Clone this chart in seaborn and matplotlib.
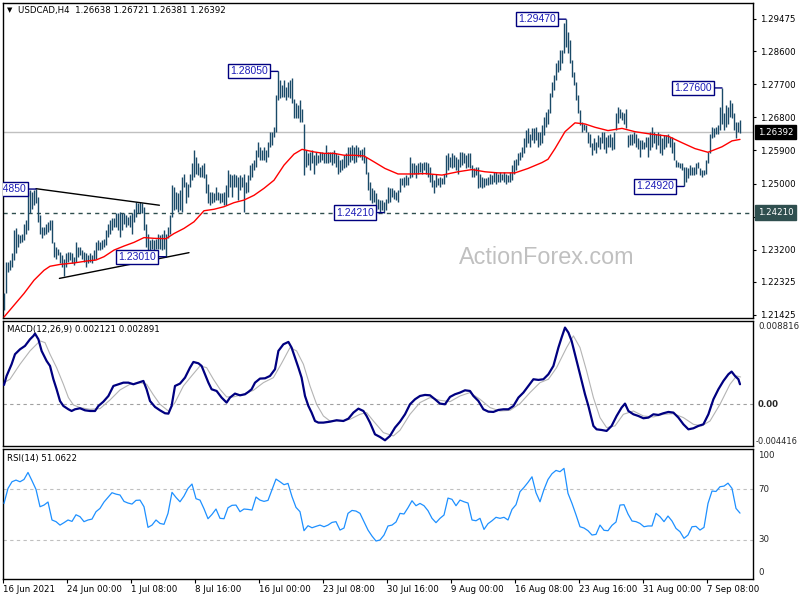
import numpy as np
import matplotlib
matplotlib.use("Agg")
import matplotlib.pyplot as plt
import seaborn as sns
from matplotlib import font_manager

# ---------------- data ----------------
header_text = "USDCAD,H4  1.26638 1.26721 1.26381 1.26392"
macd_text = "MACD(12,26,9) 0.002121 0.002891"
rsi_text = "RSI(14) 51.0622"
watermark = "ActionForex.com"
last_close = 1.26392
support_level = 1.24210

# H4 bar highs / lows in pips above 1.2000 (one value per bar)
bar_high_pips = [
    201, 287, 287, 292, 310, 373, 378, 364, 360, 364,
    391, 400, 478, 482, 478, 482, 485, 464, 414, 382,
    382, 391, 396, 402, 400, 341, 328, 323, 314, 305,
    296, 310, 314, 314, 310, 301, 341, 328, 328, 319,
    314, 310, 305, 310, 305, 319, 341, 346, 341, 346,
    350, 373, 391, 400, 405, 405, 419, 419, 423, 419,
    419, 414, 409, 414, 419, 432, 450, 448, 450, 446,
    437, 391, 364, 346, 350, 346, 350, 364, 360, 364,
    373, 364, 382, 414, 496, 491, 478, 475, 482, 518,
    527, 505, 500, 527, 555, 591, 573, 555, 545, 550,
    555, 527, 500, 478, 478, 473, 491, 478, 473, 473,
    478, 496, 536, 527, 523, 527, 523, 518, 523, 518,
    527, 505, 523, 550, 555, 564, 591, 614, 600, 591,
    600, 591, 614, 641, 641, 655, 741, 805, 781, 768,
    781, 763, 777, 781, 786, 731, 718, 713, 727, 704,
    663, 591, 582, 586, 591, 577, 586, 577, 586, 586,
    582, 604, 586, 586, 586, 591, 582, 577, 564, 568,
    577, 582, 600, 600, 604, 600, 604, 600, 591, 595,
    600, 573, 532, 505, 487, 482, 473, 459, 455, 455,
    450, 459, 491, 487, 487, 482, 478, 482, 514, 514,
    518, 523, 518, 573, 555, 555, 550, 555, 559, 555,
    559, 559, 555, 545, 527, 509, 527, 514, 518, 514,
    527, 577, 582, 573, 582, 577, 573, 568, 586, 586,
    582, 577, 582, 582, 550, 541, 545, 545, 527, 518,
    514, 514, 518, 527, 523, 532, 532, 527, 532, 527,
    532, 527, 523, 532, 550, 564, 568, 582, 586, 600,
    623, 645, 650, 636, 650, 650, 654, 641, 641, 659,
    681, 695, 704, 745, 777, 795, 827, 836, 863, 863,
    936, 947, 913, 890, 836, 804, 777, 741, 700, 668,
    663, 659, 641, 636, 609, 623, 614, 632, 627, 641,
    641, 627, 632, 636, 627, 641, 691, 709, 704, 695,
    691, 704, 632, 636, 636, 641, 636, 623, 618, 618,
    614, 627, 627, 641, 654, 641, 636, 641, 636, 623,
    632, 632, 636, 627, 627, 614, 564, 559, 555, 555,
    545, 545, 541, 550, 545, 545, 555, 559, 541, 536,
    536, 564, 586, 636, 654, 650, 654, 659, 709, 760,
    691, 713, 709, 727, 718, 691, 668, 668, 672,
]
bar_low_pips = [
    156, 201, 260, 264, 273, 292, 310, 328, 337, 341,
    346, 364, 373, 419, 432, 441, 446, 396, 364, 351,
    360, 364, 369, 373, 337, 301, 296, 305, 283, 273,
    248, 273, 287, 292, 283, 278, 287, 301, 305, 296,
    287, 273, 283, 287, 283, 292, 296, 319, 319, 323,
    328, 332, 355, 364, 373, 382, 382, 373, 355, 373,
    391, 382, 387, 382, 364, 396, 409, 419, 419, 419,
    373, 328, 310, 319, 323, 319, 323, 323, 323, 319,
    323, 301, 351, 364, 409, 427, 432, 423, 427, 423,
    491, 446, 464, 491, 509, 518, 527, 523, 518, 518,
    514, 473, 446, 441, 446, 451, 455, 455, 446, 451,
    441, 441, 464, 491, 464, 491, 491, 455, 482, 491,
    423, 473, 478, 509, 518, 536, 545, 573, 564, 564,
    564, 559, 573, 600, 605, 627, 641, 727, 732, 736,
    736, 727, 736, 732, 718, 677, 677, 677, 668, 668,
    523, 545, 550, 536, 555, 527, 550, 555, 559, 564,
    555, 555, 555, 559, 550, 555, 545, 527, 532, 536,
    541, 545, 550, 559, 564, 555, 559, 573, 573, 564,
    555, 527, 482, 455, 446, 451, 427, 432, 423, 428,
    421, 428, 446, 451, 464, 459, 455, 451, 478, 496,
    491, 496, 496, 514, 518, 527, 514, 527, 532, 527,
    536, 527, 518, 505, 491, 473, 491, 496, 491, 500,
    500, 518, 536, 545, 541, 545, 536, 527, 545, 550,
    555, 541, 545, 541, 518, 518, 523, 487, 491, 487,
    491, 496, 496, 500, 500, 505, 500, 505, 505, 509,
    505, 500, 505, 505, 509, 527, 536, 550, 564, 573,
    582, 600, 609, 600, 618, 609, 618, 600, 605, 609,
    632, 654, 663, 691, 736, 754, 781, 804, 809, 827,
    854, 872, 854, 827, 790, 768, 727, 691, 659, 641,
    645, 641, 609, 600, 577, 591, 582, 600, 595, 609,
    595, 582, 600, 600, 591, 595, 645, 664, 677, 672,
    663, 650, 600, 605, 605, 609, 600, 595, 573, 595,
    595, 600, 573, 591, 600, 609, 595, 605, 582, 577,
    595, 600, 609, 600, 582, 564, 545, 545, 541, 536,
    492, 505, 514, 523, 523, 523, 527, 541, 523, 518,
    523, 527, 555, 582, 623, 627, 636, 636, 645, 663,
    645, 654, 663, 681, 677, 645, 623, 641, 638,
]

# moving average (red line), sampled along the bars
ma_bar = [0, 5, 10, 15, 20, 23, 28, 35, 41, 46,
          50, 55, 60, 65, 70, 75, 81, 85, 90, 95,
          100, 105, 110, 115, 120, 125, 130, 135, 140, 145,
          149, 155, 160, 165, 170, 175, 180, 185, 190.5, 197,
          204, 210.5, 219, 227, 234, 240.5, 247, 255.5, 262, 269,
          272, 275.5, 280.5, 285.5, 290.5, 295.5, 302, 309, 315.5, 324,
          332, 339, 345.5, 352, 359, 364, 368]
ma_pips = [137, 169, 201, 237, 264, 275, 280, 284, 289, 292,
           301, 319, 330, 340, 353, 351, 350, 364, 378, 396,
           426, 430, 437, 448, 455, 468, 487, 509, 550, 580,
           593, 586, 582, 582, 577, 577, 575, 559, 541, 526,
           526, 527, 523, 532, 538, 532, 529, 529, 541, 557,
           566, 595, 641, 665, 662, 653, 644, 650, 641, 634,
           629, 611, 595, 585, 600, 616, 620]

# MACD main line (units of 1e-4)
macd_bar = [0, 1.3, 3.8, 5.5, 8, 10.5, 13, 14.7, 15.5, 17.2,
            18.8, 21.3, 23, 24.7, 26.3, 28, 29.7, 32.2, 33.8, 35.5,
            38, 40.5, 43, 45.5, 47.2, 49.7, 52.2, 54.7, 57.2, 59.7,
            62.2, 64.7, 67.2, 69.7, 71.3, 73, 75.5, 78, 80.5, 82.2,
            83.8, 85.5, 88, 90.5, 93, 94.7, 97.2, 98.8, 100.5, 102.2,
            103.8, 106.3, 108.8, 111.3, 113, 115.5, 118, 120.5, 122.2, 123.8,
            125.5, 128, 130.5, 133, 135.5, 137.2, 139.7, 142.2, 143.8, 145.5,
            147.2, 148.8, 150.5, 152.2, 153.8, 155.5, 157.2, 159.7, 163, 166.3,
            169.7, 172.2, 174.7, 177.2, 179.7, 181.3, 183, 185.5, 188, 190.5,
            193, 195.5, 198, 200.5, 203, 205.5, 208, 210.5, 213, 215.5,
            218, 220.5, 223, 225.5, 228, 230.5, 233, 234.7, 237.2, 239.7,
            242.2, 244.7, 247.2, 249.7, 252.2, 254.7, 257.2, 259.7, 262.2, 264.7,
            267.2, 269.7, 272.2, 274.7, 277.2, 278.8, 280.5, 282.2, 283.8, 285.5,
            288, 290.5, 292.2, 294.7, 296.3, 298.8, 301.3, 303.8, 306.3, 308.8,
            310.5, 312.2, 314.7, 317.2, 319.7, 322.2, 324.7, 327.2, 329.7, 332.2,
            334.7, 337.2, 339.7, 342.2, 344.7, 347.2, 349.7, 352.2, 354.7, 357.2,
            359.7, 362.2, 363.8, 365.5, 367.2, 368]
macd_main = [20.5, 30.0, 42.4, 53.0, 58.2, 61.8, 68.8, 72.4, 74.8, 68.8,
             56.5, 45.9, 40.6, 26.5, 15.9, 3.5, -1.8, -5.3, -7.1, -5.3,
             -4.2, -6.4, -7.1, -7.1, -1.8, 2.8, 8.8, 19.4, 21.2, 22.9,
             22.9, 21.2, 22.9, 24.7, 15.9, 3.5, -2.8, -6.4, -9.5, -9.9,
             -1.8, 19.4, 21.9, 28.2, 38.8, 44.8, 43.4, 40.6, 31.8, 22.9,
             15.9, 14.1, 7.1, 1.8, 7.1, 11.3, 9.5, 10.6, 13.1, 15.9,
             22.9, 27.2, 27.5, 30.0, 37.1, 56.5, 63.5, 66.0, 60.0, 49.4,
             38.8, 28.2, 8.8, -1.8, -8.8, -17.7, -19.4, -19.4, -18.4, -16.9,
             -17.7, -15.2, -8.8, -4.6, -7.1, -12.4, -19.4, -31.8, -34.6, -38.1,
             -33.5, -24.7, -18.4, -10.6, 0.0, 5.3, 8.8, 9.9, 9.5, 5.3,
             0.7, 0.0, 7.8, 10.6, 12.4, 14.8, 14.1, 8.8, 3.5, -5.3,
             -7.8, -8.1, -6.0, -5.3, -5.3, -1.8, 7.1, 12.4, 19.4, 26.5,
             25.8, 26.5, 31.8, 40.6, 60.0, 70.6, 81.2, 75.9, 67.1, 53.0,
             31.8, 10.6, -1.8, -22.9, -26.5, -27.2, -28.2, -22.9, -12.4, -3.5,
             0.7, -7.1, -10.6, -12.4, -14.8, -14.1, -10.6, -11.3, -9.5, -8.1,
             -8.8, -14.1, -21.2, -26.5, -25.4, -22.9, -21.2, -10.6, 5.3, 15.9,
             24.7, 31.8, 34.6, 30.0, 26.5, 21.2]

# MACD signal line (units of 1e-4)
signal_bar = [0, 3, 8, 13, 18, 20.5, 23, 26.3, 29.7, 32.2,
              34.7, 38, 43, 48, 53, 58, 63, 68, 71.3, 74.7,
              78, 82.2, 85.5, 89.7, 93.8, 98, 101.3, 104.7, 108, 111.3,
              114.7, 119.7, 124.7, 129.7, 134.7, 138.8, 143, 146.3, 149.7, 153,
              156.3, 159.7, 163, 168, 173, 178, 181.3, 184.7, 189.7, 194.7,
              198, 203, 208, 213, 218, 223, 228, 233, 238, 243,
              248, 253, 258, 263, 268, 272.2, 276.3, 281.3, 284.7, 288,
              291.3, 294.7, 298, 301.3, 305.5, 309.7, 314.7, 319.7, 324.7, 329.7,
              334.7, 339.7, 344.7, 348.8, 353, 358, 363, 366.3, 368.3]
signal_vals = [22.9, 26.5, 42.4, 56.5, 67.1, 65.3, 53.0, 38.8, 21.2, 7.1,
               -0.7, -3.5, -5.3, -4.6, 4.6, 15.2, 21.2, 22.9, 21.2, 9.9,
               0.0, -7.1, 1.8, 19.4, 30.0, 40.6, 38.8, 26.5, 15.9, 7.8,
               7.8, 10.6, 14.8, 22.9, 28.2, 43.4, 60.0, 56.5, 42.4, 19.4,
               0.0, -12.4, -17.7, -17.7, -15.9, -10.6, -8.8, -17.7, -30.0, -33.5,
               -27.5, -10.6, 1.8, 7.1, 4.2, 2.8, 8.8, 12.4, 5.3, -3.5,
               -7.1, -6.4, 0.7, 12.4, 22.9, 26.5, 38.8, 60.0, 72.4, 60.0,
               35.3, 7.1, -14.1, -24.7, -22.9, -10.6, -7.1, -12.4, -13.4, -10.6,
               -9.9, -14.1, -21.2, -22.9, -17.7, 0.0, 21.2, 30.0, 28.9]

# RSI(14), one reading every 2 bars
rsi_step = 2
rsi_values = [58.7, 70.5, 75.7, 77.0, 75.7, 77.5, 83.0, 76.5, 69.7, 56.1,
              57.4, 59.8, 45.7, 44.4, 41.7, 43.6, 45.7, 44.6, 49.8, 48.3,
              44.4, 45.7, 46.4, 52.2, 54.8, 59.8, 63.4, 67.1, 66.0, 65.3,
              60.3, 59.0, 58.2, 61.1, 61.3, 56.1, 39.9, 41.7, 45.7, 43.0,
              42.3, 50.9, 67.4, 63.4, 60.0, 64.5, 70.5, 73.9, 62.4, 61.3,
              54.5, 46.7, 50.1, 54.3, 47.0, 46.7, 55.3, 57.2, 57.4, 52.2,
              54.3, 54.0, 53.5, 63.7, 61.3, 60.3, 61.1, 69.4, 77.8, 75.7,
              73.4, 74.4, 64.0, 55.6, 52.2, 37.3, 41.2, 39.6, 40.7, 41.7,
              40.4, 41.7, 43.8, 44.4, 37.8, 39.4, 50.9, 53.2, 52.7, 50.9,
              44.4, 37.8, 33.1, 29.2, 30.0, 33.9, 41.0, 41.7, 44.1, 50.9,
              50.4, 55.3, 60.8, 56.9, 58.7, 56.9, 53.0, 47.0, 43.6, 47.0,
              49.6, 62.9, 61.9, 56.9, 61.3, 60.0, 59.0, 45.7, 45.1, 47.0,
              38.3, 42.8, 45.1, 47.8, 47.0, 47.8, 45.7, 54.0, 57.7, 67.9,
              71.3, 75.2, 79.6, 67.1, 60.0, 69.7, 77.5, 82.0, 84.6, 83.6,
              86.2, 66.6, 58.7, 49.8, 40.4, 39.4, 37.3, 33.9, 34.4, 41.7,
              37.6, 37.3, 41.5, 44.1, 57.4, 57.7, 50.4, 44.9, 44.4, 43.0,
              40.4, 41.0, 41.0, 50.9, 48.3, 44.4, 48.8, 44.9, 39.1, 36.5,
              31.3, 33.9, 40.4, 40.7, 37.8, 39.9, 58.7, 68.4, 68.1, 71.8,
              72.3, 74.6, 70.5, 54.8, 51.1]

price_ticks = [1.29475, 1.28600, 1.27700, 1.26800, 1.25900,
               1.25000, 1.24100, 1.23200, 1.22325, 1.21425]
date_tick_bars = [0, 32, 64, 96, 128, 160, 192, 224, 256, 288, 320, 352]
date_tick_labels = ["16 Jun 2021", "24 Jun 00:00", "1 Jul 08:00", "8 Jul 16:00",
                    "16 Jul 00:00", "23 Jul 08:00", "30 Jul 16:00", "9 Aug 00:00",
                    "16 Aug 08:00", "23 Aug 16:00", "31 Aug 00:00", "7 Sep 08:00"]

swing_text = ["1.24850", "1.23010", "1.28050", "1.24210", "1.29470", "1.24920", "1.27600"]
swing_bar = [16, 81, 137, 190, 281, 340, 359]
swing_price = [1.24850, 1.23010, 1.28050, 1.24210, 1.29470, 1.24920, 1.27600]

trend_upper_bar = [16, 77.7]
trend_upper_price = [1.2486, 1.2441]
trend_lower_bar = [27.7, 92.5]
trend_lower_price = [1.2242, 1.2312]

macd_levels = ["0.008816", "0.00", "-0.004416"]
rsi_levels = [100, 70, 30, 0]

# ---------------- style ----------------
sns.set_style("white")
names = {f.name for f in font_manager.fontManager.ttflist}
NARROW = "Liberation Sans Narrow" if "Liberation Sans Narrow" in names else "DejaVu Sans"
SANS = "Liberation Sans" if "Liberation Sans" in names else "DejaVu Sans"
plt.rcParams['font.family'] = [NARROW, 'DejaVu Sans']
FS = 8 if NARROW != "DejaVu Sans" else 6.2
LFS = 7.5 if SANS != "DejaVu Sans" else 6.5

BAR_C = '#1a4a68'
W, H = 800, 600

fig = plt.figure(figsize=(8, 6), dpi=100)
fig.patch.set_facecolor('white')
ax_p = fig.add_axes([3 / W, 1 - 318 / H, 750 / W, 315 / H])
ax_m = fig.add_axes([3 / W, 1 - 446 / H, 750 / W, 125 / H])
ax_r = fig.add_axes([3 / W, 1 - 579 / H, 750 / W, 130 / H])

XMIN, XMAX = -0.5, 374.5
for ax in (ax_p, ax_m, ax_r):
    ax.set_xlim(XMIN, XMAX)
    ax.set_facecolor('white')
    for s in ax.spines.values():
        s.set_color('black')
        s.set_linewidth(1.0)
    ax.set_xlabel('')
    ax.set_ylabel('')

# ---------------- price panel ----------------
highs = 1.2 + np.array(bar_high_pips) / 1e4
lows = 1.2 + np.array(bar_low_pips) / 1e4
xb = np.arange(len(highs))
ax_p.axhline(last_close, color='#c0c0c0', lw=1.0, zorder=1)
ax_p.axhline(support_level, color='#2f4f4f', lw=1.0, ls=(0, (3, 3)), zorder=1)
ax_p.vlines(xb, lows, highs, color=BAR_C, lw=1.0, zorder=3)
sns.lineplot(x=ma_bar, y=1.2 + np.array(ma_pips) / 1e4, ax=ax_p,
             color='#ff0000', linewidth=1.0, zorder=4)
ax_p.plot(trend_upper_bar, trend_upper_price, color='black', lw=1.0, zorder=4)
ax_p.plot(trend_lower_bar, trend_lower_price, color='black', lw=1.0, zorder=4)

for txt, b, p in zip(swing_text, swing_bar, swing_price):
    ax_p.annotate(txt, xy=(b, p), xytext=(-10, 0), textcoords='offset pixels',
                  ha='right', va='center', fontsize=LFS, color='#1c1cb8', family=SANS,
                  bbox=dict(boxstyle='square,pad=0.2', fc='white', ec='#00007f', lw=1.0),
                  arrowprops=dict(arrowstyle='-', color='#00007f', lw=1.0,
                                  shrinkA=0, shrinkB=0),
                  clip_on=True, zorder=6)

ax_p.set_ylim(1.21343, 1.29910)
ax_p.yaxis.tick_right()
ax_p.set_yticks(price_ticks)
ax_p.set_yticklabels([f"{t:.5f}" for t in price_ticks])
ax_p.tick_params(axis='y', direction='out', length=2, width=0.8, pad=3,
                 labelsize=FS, colors='black')
ax_p.set_xticks([])

ytr = ax_p.get_yaxis_transform()
for val, fc in [(last_close, 'black'), (support_level, '#2f4f4f')]:
    ax_p.text(1.0 + 5 / 750, val, f"{val:.5f}", transform=ytr, ha='left', va='center',
              fontsize=FS, color='white', clip_on=False, zorder=10,
              bbox=dict(boxstyle='square,pad=0.3', fc=fc, ec=fc))

ax_p.text(0.7253, 1 - 255 / 315, watermark, transform=ax_p.transAxes, ha='center',
          va='center', fontsize=16.8, color='#c0c0c0', family=SANS, zorder=0)

fig.text(9.5 / W, 1 - 10 / H, "\u25bc", fontsize=5, family='DejaVu Sans',
         ha='center', va='center', color='black')
fig.text(18 / W, 1 - 10 / H, header_text, fontsize=FS, ha='left', va='center',
         color='black')

# ---------------- MACD panel ----------------
ax_m.axhline(0, color='#a0a0a0', lw=0.8, ls=(0, (3, 3)), zorder=1)
sns.lineplot(x=signal_bar, y=signal_vals, ax=ax_m, color='#b4b4b4', linewidth=0.8, zorder=2)
sns.lineplot(x=macd_bar, y=macd_main, ax=ax_m, color='#000080', linewidth=1.6, zorder=3)
ax_m.set_ylim(-44.16, 88.16)
ax_m.set_xticks([])
ax_m.set_yticks([])
ax_m.set_xlabel('')
ax_m.set_ylabel('')
ax_m.text(4 / 750, 1 - 9 / 125, macd_text, transform=ax_m.transAxes, fontsize=FS,
          ha='left', va='center', color='black')
mtr = ax_m.transAxes
xo = 1.0 + 5 / 750
ax_m.text(xo, 1 - 6 / 125, macd_levels[0], transform=mtr, fontsize=FS, ha='left', va='center')
ax_m.text(xo, (446 - 405) / 125, macd_levels[1], transform=mtr, fontsize=FS, ha='left',
          va='center', fontweight='bold')
ax_m.text(1.0 + 3 / 750, 5 / 125, macd_levels[2], transform=mtr, fontsize=FS * 0.96,
          ha='left', va='center')

# ---------------- RSI panel ----------------
for lv in (70, 30):
    ax_r.axhline(lv, color='#c0c0c0', lw=0.8, ls=(0, (3, 3)), zorder=1)
sns.lineplot(x=np.arange(len(rsi_values)) * rsi_step, y=rsi_values, ax=ax_r,
             color='#1e90ff', linewidth=0.9, zorder=3)
ax_r.set_ylim(-0.6, 101.4)
ax_r.set_yticks([])
ax_r.set_xlabel('')
ax_r.set_ylabel('')
ax_r.text(4 / 750, 1 - 9 / 130, rsi_text, transform=ax_r.transAxes, fontsize=FS,
          ha='left', va='center', color='black')
rtr = ax_r.get_yaxis_transform()
ax_r.text(xo, 1 - 7 / 130, str(rsi_levels[0]), transform=ax_r.transAxes, fontsize=FS,
          ha='left', va='center')
ax_r.text(xo, rsi_levels[1], str(rsi_levels[1]), transform=rtr, fontsize=FS, ha='left', va='center')
ax_r.text(xo, rsi_levels[2], str(rsi_levels[2]), transform=rtr, fontsize=FS, ha='left', va='center')
ax_r.text(xo, 6.5 / 130, str(rsi_levels[3]), transform=ax_r.transAxes, fontsize=FS,
          ha='left', va='center')

ax_r.set_xticks([b - 0.5 for b in date_tick_bars])
ax_r.set_xticklabels(date_tick_labels, ha='left')
ax_r.tick_params(axis='x', direction='out', length=3, width=0.8, pad=1.5,
                 labelsize=FS, colors='black', bottom=True)

fig.savefig('out.png', dpi=100, facecolor='white')
